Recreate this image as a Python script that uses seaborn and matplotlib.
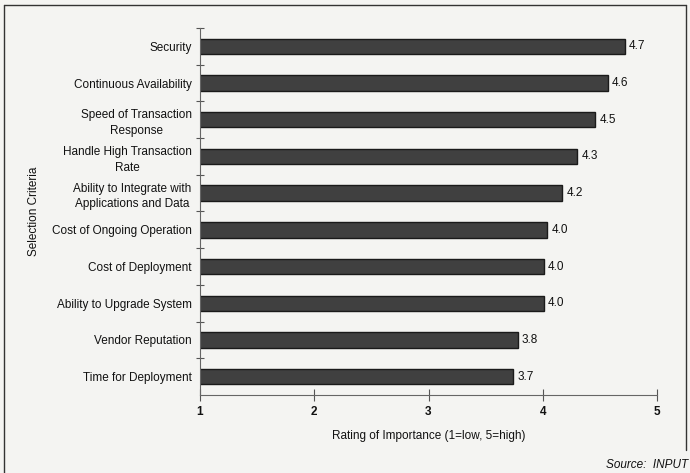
import matplotlib
matplotlib.use("Agg")
import matplotlib.pyplot as plt
from matplotlib.lines import Line2D
from matplotlib.ticker import FixedLocator, NullFormatter
import seaborn as sns
import pandas as pd

# Survey results: average rating of each selection criterion
criteria = [
    "Security",
    "Continuous Availability",
    "Speed of Transaction\nResponse",
    "Handle High Transaction\nRate",
    "Ability to Integrate with\nApplications and Data",
    "Cost of Ongoing Operation",
    "Cost of Deployment",
    "Ability to Upgrade System",
    "Vendor Reputation",
    "Time for Deployment",
]
ratings = [4.72, 4.57, 4.46, 4.30, 4.17, 4.04, 4.01, 4.01, 3.78, 3.74]
x_ticks = [1, 2, 3, 4, 5]

df = pd.DataFrame({"criteria": criteria, "rating": ratings})

sns.set_theme(style="white")
plt.rcParams["font.family"] = ["Liberation Sans", "DejaVu Sans"]

W, H = 690, 473
fig = plt.figure(figsize=(W / 100, H / 100), dpi=100, facecolor="#f4f4f2")
ax = fig.add_axes([200 / W, 1 - 395 / H, 457 / W, 367 / H])
ax.set_facecolor("#f4f4f2")

sns.barplot(
    data=df, x="rating", y="criteria", orient="h", ax=ax,
    color="#404040", saturation=1, width=0.42,
    edgecolor="#1a1a1a", linewidth=1.0,
)

ax.set_xlim(1, 5)
ax.set_xticks(x_ticks)
ax.set_xticklabels([str(t) for t in x_ticks], fontsize=8.5, fontweight="bold")

# value labels at bar ends
ax.bar_label(ax.containers[0], fmt="%.1f", padding=3, fontsize=8.5, color="#111111")

# category labels centred on bars, tick marks on category boundaries
ax.tick_params(axis="y", which="major", length=0, pad=6, labelsize=8.5, labelcolor="#111111")
for lbl in ax.get_yticklabels():
    lbl.set_multialignment("center")
    lbl.set_linespacing(1.4)
ax.yaxis.set_minor_locator(FixedLocator([i - 0.5 for i in range(len(criteria))]))
ax.yaxis.set_minor_formatter(NullFormatter())
ax.tick_params(axis="y", which="minor", left=True, length=6, width=0.8,
               direction="inout", color="#555555")
ax.tick_params(axis="x", which="major", bottom=True, length=8, width=0.8,
               direction="inout", color="#555555", pad=4, labelcolor="#111111")

for side in ("top", "right"):
    ax.spines[side].set_visible(False)
for side in ("left", "bottom"):
    ax.spines[side].set_color("#666666")
    ax.spines[side].set_linewidth(0.8)

ax.set_xlabel("Rating of Importance (1=low, 5=high)", fontsize=8.5, color="#111111")
ax.set_ylabel("Selection Criteria", fontsize=8.5, color="#111111")
ax.xaxis.set_label_coords(0.5, -(430 - 395) / 367)
ax.yaxis.set_label_coords(-(200 - 40) / 457, 0.5)

fig.text(688 / W, 1 - 465 / H, "Source:  INPUT", ha="right", va="center",
         fontsize=8.5, style="italic", color="#111111")

# outer frame
def px(x, y):
    return x / W, 1 - y / H

frame_kw = dict(color="#333333", linewidth=1.0, transform=fig.transFigure)
for (x0, y0), (x1, y1) in [((4, 5), (686, 5)), ((4, 5), (4, 473)), ((686, 5), (686, 450))]:
    a, b = px(x0, y0)
    c, d = px(x1, y1)
    fig.add_artist(Line2D([a, c], [b, d], **frame_kw))

fig.savefig("out.png", dpi=100, facecolor=fig.get_facecolor())
